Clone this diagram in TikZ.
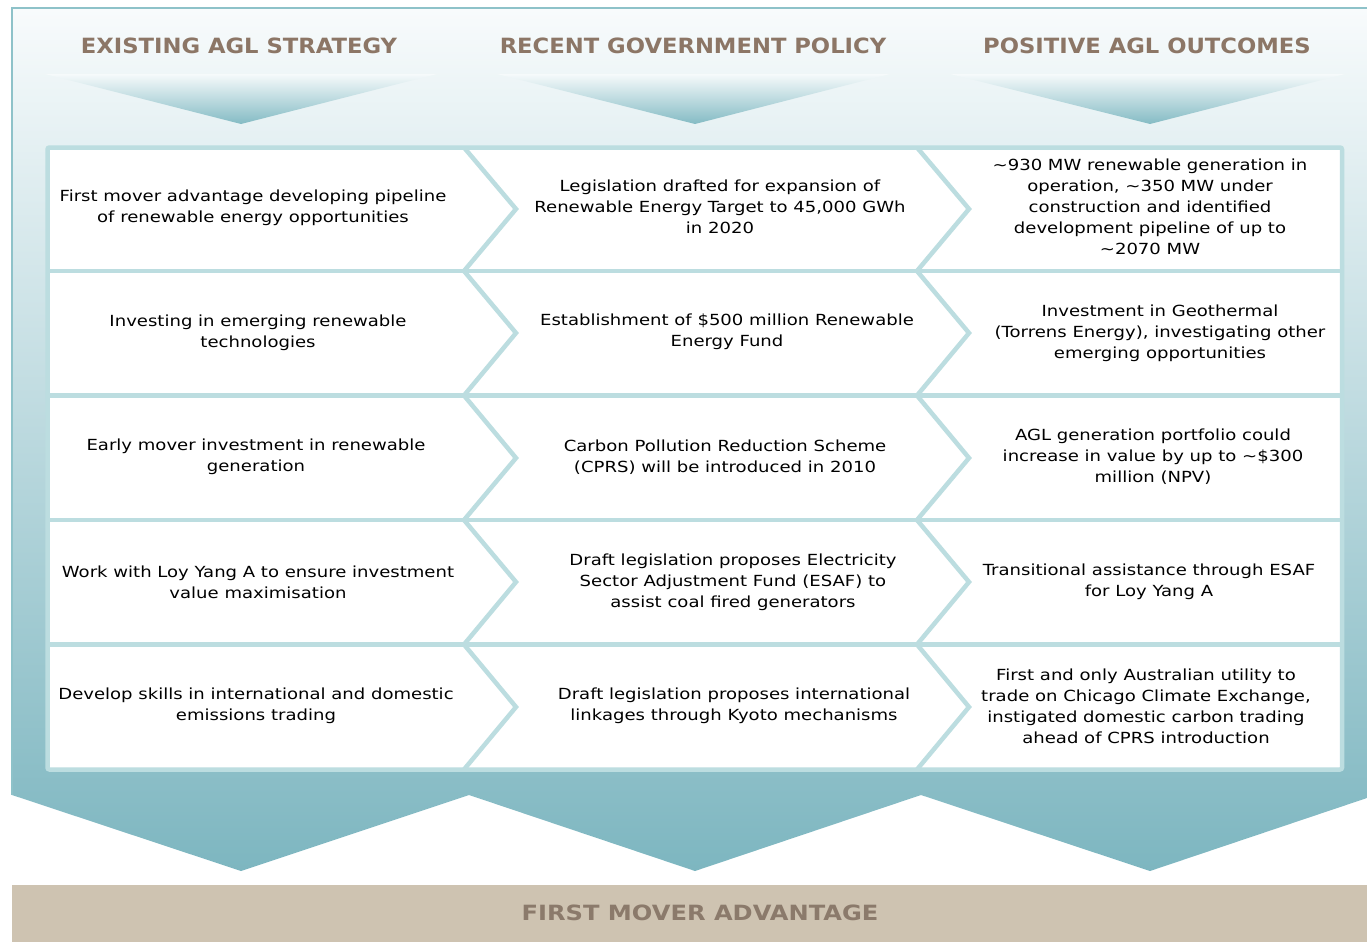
\documentclass[tikz,border=0pt]{standalone}
\usepackage{fontspec}
\setmainfont[FakeStretch=1.18]{DejaVu Sans}
\newfontfamily\headfont[FakeStretch=1.08]{DejaVu Sans}
\newfontfamily\barfont[FakeStretch=1.15]{DejaVu Sans}
\definecolor{frame}{HTML}{BCDDE0}
\definecolor{tealdark}{HTML}{7DB6C0}
\definecolor{bgtop}{HTML}{F8FBFC}
\definecolor{hdr}{HTML}{8C7666}
\definecolor{barfill}{HTML}{CEC3B1}
\definecolor{bartext}{HTML}{8B7A6B}
\definecolor{edge}{HTML}{8EC2C9}
\definecolor{tritop}{HTML}{F6FAFB}
\definecolor{tribot}{HTML}{84BBC4}
\begin{document}
\begin{tikzpicture}[x=1pt,y=-1pt,
  cell/.style={align=center,font=\fontsize{15.3}{21}\selectfont,text=black,inner sep=0pt},
  head/.style={font=\headfont\fontsize{21}{24}\selectfont\bfseries,text=hdr,inner sep=0pt},
  sepline/.style={draw=frame,line width=4.5pt},
  tri/.style={top color=tritop,bottom color=tribot,draw=none},
]
\useasboundingbox (0,0) rectangle (1367,942);
% background container with zigzag bottom
\shade[top color=bgtop,bottom color=tealdark]
  (12,8) -- (1367,8) -- (1367,798) -- (1150,871) -- (921,795) -- (695,871)
  -- (469,795) -- (241,871) -- (12,795) -- cycle;
\draw[edge,line width=2pt] (12,795) -- (12,8) -- (1367,8);
% header triangles
\shade[tri] (45,74) -- (437,74) -- (241,124) -- cycle;
\shade[tri] (497,74) -- (890,74) -- (695,124) -- cycle;
\shade[tri] (950,74) -- (1345,74) -- (1150,124) -- cycle;
% headers
\node[head] (h1) at (239,46) {EXISTING AGL STRATEGY};
\node[head] (h2) at (693,46) {RECENT GOVERNMENT POLICY};
\node[head] (h3) at (1147,46) {POSITIVE AGL OUTCOMES};
% grid frame
\draw[sepline,fill=white,rounded corners=2pt] (47.5,147.5) rectangle (1342,769.5);
\foreach \y in {271,395.5,520,644.5}
  \draw[sepline] (47.5,\y) -- (1342,\y);
% chevron dividers
\foreach \x in {464,917}{
  \draw[sepline,line join=miter]
    (\x,147.5) -- (\x+52,209) -- (\x,271) -- (\x+52,333) -- (\x,395.5)
    -- (\x+52,458) -- (\x,520) -- (\x+52,582) -- (\x,644.5) -- (\x+52,707) -- (\x,769.5);
}
% cells
\node[cell] (c11) at (253,208) {First mover advantage developing pipeline\\of renewable energy opportunities};
\node[cell] (c12) at (720,207) {Legislation drafted for expansion of\\Renewable Energy Target to 45,000 GWh\\in 2020};
\node[cell] (c13) at (1150,207) {\textasciitilde930 MW renewable generation in\\operation, \textasciitilde350 MW under\\construction and identified\\development pipeline of up to\\\textasciitilde2070 MW};
\node[cell] (c21) at (258,333) {Investing in emerging renewable\\technologies};
\node[cell] (c22) at (727,332) {Establishment of \$500 million Renewable\\Energy Fund};
\node[cell] (c23) at (1160,333) {Investment in Geothermal\\(Torrens Energy), investigating other\\emerging opportunities};
\node[cell] (c31) at (256,457) {Early mover investment in renewable\\generation};
\node[cell] (c32) at (725,457) {Carbon Pollution Reduction Scheme\\(CPRS) will be introduced in 2010};
\node[cell] (c33) at (1153,457) {AGL generation portfolio could\\increase in value by up to \textasciitilde\$300\\million (NPV)};
\node[cell] (c41) at (258,582) {Work with Loy Yang A to ensure investment\\value maximisation};
\node[cell] (c42) at (733,582) {Draft legislation proposes Electricity\\Sector Adjustment Fund (ESAF) to\\assist coal fired generators};
\node[cell] (c43) at (1149,582) {Transitional assistance through ESAF\\for Loy Yang A};
\node[cell] (c51) at (256,706) {Develop skills in international and domestic\\emissions trading};
\node[cell] (c52) at (734,706) {Draft legislation proposes international\\linkages through Kyoto mechanisms};
\node[cell] (c53) at (1146,706) {First and only Australian utility to\\trade on Chicago Climate Exchange,\\instigated domestic carbon trading\\ahead of CPRS introduction};
% bottom bar
\fill[barfill] (12,885) rectangle (1367,942);
\node[head,font=\barfont\fontsize{21}{24}\selectfont\bfseries,text=bartext] (bar) at (700,913) {FIRST MOVER ADVANTAGE};
\end{tikzpicture}
\end{document}
